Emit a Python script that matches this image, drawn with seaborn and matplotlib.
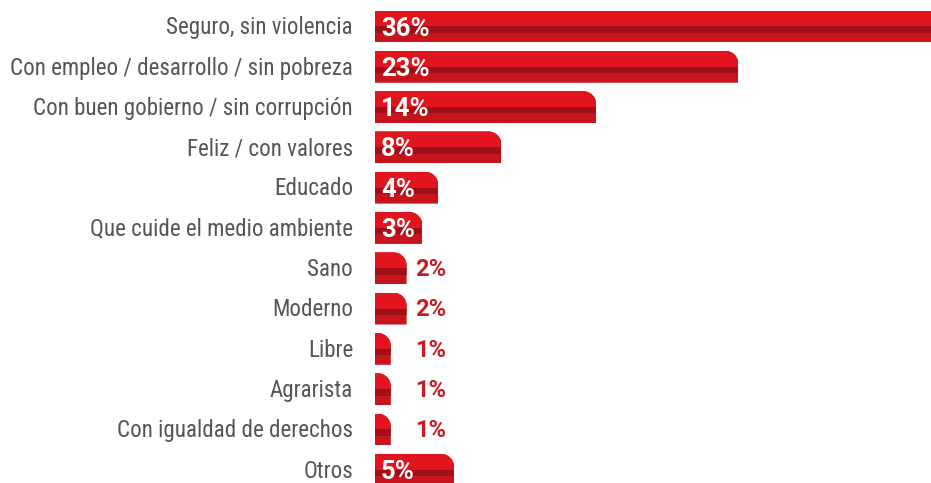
import matplotlib
matplotlib.use("Agg")
import matplotlib.pyplot as plt
import seaborn as sns
import numpy as np
from matplotlib.path import Path
from matplotlib.patches import PathPatch
from matplotlib import font_manager as fm

# Survey answers and their shares (%)
categories = [
    "Seguro, sin violencia",
    "Con empleo / desarrollo / sin pobreza",
    "Con buen gobierno / sin corrupción",
    "Feliz / con valores",
    "Educado",
    "Que cuide el medio ambiente",
    "Sano",
    "Moderno",
    "Libre",
    "Agrarista",
    "Con igualdad de derechos",
    "Otros",
]
values = [36, 23, 14, 8, 4, 3, 2, 2, 1, 1, 1, 5]
value_labels = ["36%", "23%", "14%", "8%", "4%", "3%", "2%", "2%", "1%", "1%", "1%", "5%"]

sns.set_theme(style="white")

# prefer a narrow sans face if one is installed
def pick_font():
    names = {f.name for f in fm.fontManager.ttflist}
    for fam in ["Liberation Sans Narrow", "Roboto Condensed", "DejaVu Sans Condensed",
                "Open Sans Condensed", "Noto Sans Condensed"]:
        if fam in names:
            return dict(family=fam)
    for f in fm.fontManager.ttflist:
        if f.stretch in ("condensed", "semi-condensed") and "Sans" in f.name and "Mono" not in f.name:
            return dict(family=f.name, stretch=f.stretch)
    return dict(family="Roboto")

FONT = pick_font()
plt.rcParams["font.family"] = [FONT["family"], "DejaVu Sans"]

RED_TOP = "#e2151f"
RED_LOW = "#c8141d"
RED_DARK = "#a00f17"
LABEL_RED = "#c81a22"
GREY = "#555555"

W, H = 931, 483
fig = plt.figure(figsize=(W / 100, H / 100), dpi=100)
left_px = 375
ax = fig.add_axes([left_px / W, 0, 1 - left_px / W, 1])

bar_h = 0.79
sns.barplot(x=values, y=categories, orient="h", color=RED_LOW,
            saturation=1, width=bar_h, ax=ax, linewidth=0)

px_per_x = 15.8
px_per_y = 40.3
ax.set_xlim(0, (W - left_px) / px_per_x)
c0 = 26.5
ax.set_ylim(11 + (H - (c0 + 11 * px_per_y)) / px_per_y, -c0 / px_per_y)
ax.axis("off")

pos = np.arange(len(values))
vals = np.array(values, dtype=float)
top = pos - bar_h / 2

# glossy upper half and darker band inside each bar
hi = ax.barh(top + bar_h * 0.25, vals, height=bar_h * 0.5, color=RED_TOP, linewidth=0)
dk = ax.barh(top + bar_h * 0.60, vals, height=bar_h * 0.2, color=RED_DARK, linewidth=0)


def rounded_clip(v, c):
    """Bar outline with a rounded top-right corner, in data coordinates."""
    r_px = min(13.0, v * px_per_x)
    rx = r_px / px_per_x
    ry = r_px / px_per_y
    k = 0.5523
    yt = c - bar_h / 2
    yb = c + bar_h / 2
    verts = [
        (0, yb), (v, yb), (v, yt + ry),
        (v, yt + ry * (1 - k)), (v - rx * (1 - k), yt), (v - rx, yt),
        (0, yt), (0, yb),
    ]
    codes = [Path.MOVETO, Path.LINETO, Path.LINETO,
             Path.CURVE4, Path.CURVE4, Path.CURVE4,
             Path.LINETO, Path.CLOSEPOLY]
    pp = PathPatch(Path(verts, codes), transform=ax.transData,
                   facecolor="none", edgecolor="none")
    ax.add_patch(pp)
    return pp


base_bars = ax.patches[:len(values)]
for i, (v, b) in enumerate(zip(values, base_bars)):
    clip = rounded_clip(v, pos[i])
    for p in (b, hi.patches[i], dk.patches[i]):
        p.set_clip_path(clip)

# category names to the left of the bars; size chosen so the longest fits 343 px
stretch = FONT.get("stretch", "normal")
renderer = fig.canvas.get_renderer()
probe = fig.text(0, 0, max(categories, key=len), fontsize=20, stretch=stretch)
wpx = probe.get_window_extent(renderer).width
probe.remove()
cat_size = min(17.0, 20 * 343 / wpx)

for i, name in enumerate(categories):
    ax.text(-22 / px_per_x, pos[i] + 0.03, name, ha="right", va="center",
            fontsize=cat_size, color=GREY, clip_on=False, stretch=stretch)

# value labels: inside for wide bars, outside for narrow ones
VAL_FONT = ["Roboto", "DejaVu Sans"]
for i, (v, lab) in enumerate(zip(values, value_labels)):
    if v >= 3:
        ax.text(6 / px_per_x, pos[i] + 0.05, lab, ha="left", va="center",
                fontsize=18.5, fontweight="bold", color="white", family=VAL_FONT)
    else:
        ax.text(40 / px_per_x, pos[i] + 0.03, lab, ha="left", va="center",
                fontsize=17, fontweight="bold", color=LABEL_RED, family=VAL_FONT)

fig.savefig("out.png", dpi=100, facecolor="white")
